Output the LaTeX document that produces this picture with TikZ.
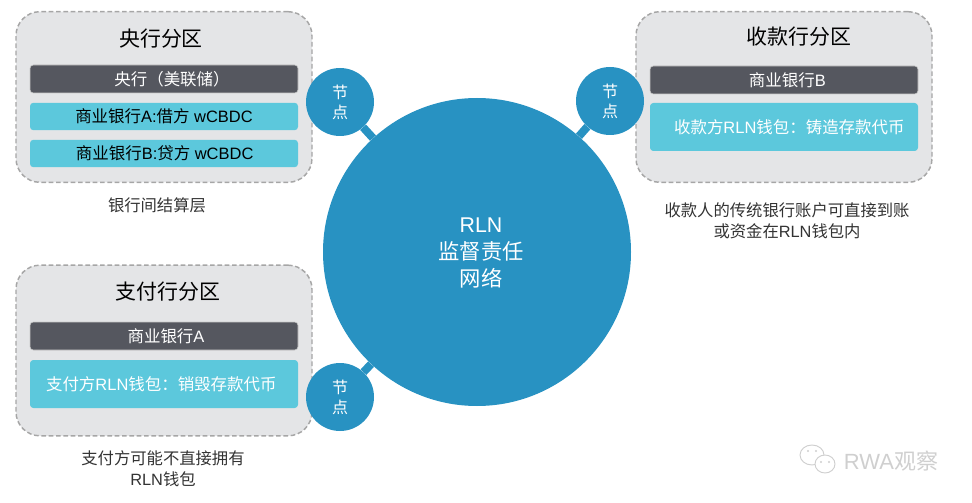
\documentclass[tikz,border=0pt]{standalone}
\usepackage{fontspec}
\setmainfont{Liberation Sans}
\newfontfamily\cjk{Noto Sans CJK SC}
\newcommand{\zh}[1]{{\cjk #1}}
\usetikzlibrary{positioning,calc}

\definecolor{zonegray}{HTML}{E4E5E7}
\definecolor{zoneedge}{HTML}{A6A6A6}
\definecolor{bardark}{HTML}{55575F}
\definecolor{barteal}{HTML}{5CC8DC}
\definecolor{netblue}{HTML}{2892C2}
\definecolor{textdark}{HTML}{333333}
\definecolor{markgray}{HTML}{CFCFCF}

\tikzset{
  zonebox/.style={draw=zoneedge,fill=zonegray,dash pattern=on 3.5pt off 2pt,line width=1.1pt,rounded corners=18pt,
    minimum width=222pt,minimum height=128pt,inner sep=0pt},
  zonetitle/.style={text=black,font=\fontsize{15.7}{18}\selectfont,inner sep=0pt},
  darkbar/.style={fill=bardark,draw=zoneedge!60,line width=0.4pt,rounded corners=2.5pt,text=white,
    font=\fontsize{12.35}{14}\selectfont,minimum width=201pt,minimum height=21pt,inner sep=0pt},
  tealbar/.style={fill=barteal,rounded corners=2.5pt,text=black,
    font=\fontsize{12.35}{14}\selectfont,minimum width=201pt,minimum height=20.5pt,inner sep=0pt},
  tallbar/.style={tealbar,text=white,minimum height=36pt},
  peer/.style={circle,fill=netblue,text=white,minimum size=51pt,inner sep=0pt,align=center,
    font=\fontsize{12}{15}\selectfont},
  peerlink/.style={draw=netblue,line width=6pt},
  caption/.style={text=textdark,align=center,inner sep=0pt,font=\fontsize{12.25}{16}\selectfont},
}

\begin{document}
\begin{tikzpicture}[x=0.75pt,y=-0.75pt]
    \useasboundingbox (0,0) rectangle (972,503);

    % central bank zone
    \node[zonebox] (cbzone) at (164,97) {};
    \node[zonetitle] (cbtitle) at (161,39) {\zh{央行分区}};
    \node[darkbar] (cbbar) at (164,79) {\hspace*{12pt}\zh{央行（美联储）}};
    \node[tealbar] (cbbanka) at (164,116.5) {\raisebox{-0.7pt}{\zh{商业银行}A:\zh{借方} wCBDC}};
    \node[tealbar] (cbbankb) at (164,153.5) {\raisebox{-1.2pt}{\hspace*{1pt}\zh{商业银行}B:\zh{贷方} wCBDC}};
    \node[caption] (cbnote) at (157,205) {\zh{银行间结算层}};

    % payee zone
    \node[zonebox] (payeezone) at (784,97) {};
    \node[zonetitle] (payeetitle) at (799,37) {\zh{收款行分区}};
    \node[darkbar] (payeebar) at (784,80) {\hspace*{5pt}\zh{商业银行}B};
    \node[tallbar] (payeewallet) at (784,127) {\hspace*{8pt}\zh{收款方}RLN\zh{钱包：铸造存款代币}};
    \node[caption] (payeenote) at (787,221) {\zh{收款人的传统银行账户可直接到账}\\\zh{或资金在}RLN\zh{钱包内}};

    % payer zone
    \node[zonebox] (payerzone) at (164,350.5) {};
    \node[zonetitle] (payertitle) at (168,292) {\zh{支付行分区}};
    \node[darkbar] (payerbar) at (164,336) {\hspace*{3pt}\zh{商业银行}A};
    \node[tallbar] (payerwallet) at (164,384) {\hspace*{-4pt}\zh{支付方}RLN\zh{钱包：销毁存款代币}};
    \node[caption] (payernote) at (163,469) {\zh{支付方可能不直接拥有}\\RLN\zh{钱包}};

    % network and its peers
    \node[circle,fill=netblue,minimum size=231pt,inner sep=0pt] (rln) at (477,252) {};
    \node[text=white,align=center,inner sep=0pt,font=\fontsize{16}{20}\selectfont] (rlntext) at (481,253) {RLN\\\zh{监督责任}\\\zh{网络}};
    \node[peer] (peercb) at (340,102) {\zh{节}\\\zh{点}};
    \node[peer] (peerpayee) at (610,101) {\zh{节}\\\zh{点}};
    \node[peer] (peerpayer) at (340,397) {\zh{节}\\\zh{点}};
    \draw[peerlink] (peercb) -- (rln);
    \draw[peerlink] (peerpayee) -- (rln);
    \draw[peerlink] (peerpayer) -- (rln);

    % watermark
    \draw[markgray,fill=white,line width=0.7pt] (812,455) ellipse (12 and 10);
    \draw[markgray,fill=white,line width=0.7pt] (825,464) ellipse (10 and 9);
    \foreach \x/\y in {808/451,816/451,821/462,829/462} { \fill[markgray] (\x,\y) circle (1.1); }
    \node[text=markgray,inner sep=0pt,font=\fontsize{16.5}{18}\selectfont] (mark) at (891,461) {RWA\zh{观察}};
\end{tikzpicture}
\end{document}
